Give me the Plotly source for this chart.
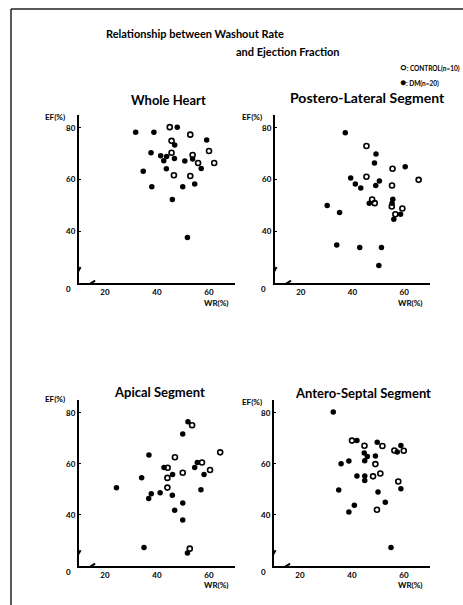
import plotly.graph_objects as go

# ---------------- data (WR %, EF %) ----------------
wh_dm_x = [31.8, 38.8, 47.8, 59.1, 46.8, 37.7, 41.4, 43.7, 42.6, 46.7, 50.7, 53.7, 57.0, 43.6, 34.7, 38.0, 49.9, 54.5, 45.9, 51.7]
wh_dm_y = [78.3, 78.3, 80.3, 75.3, 73.4, 70.4, 69.2, 68.9, 67.3, 68.2, 67.2, 68.0, 64.3, 64.2, 63.2, 57.2, 57.2, 58.3, 52.3, 37.6]
wh_ct_x = [44.9, 52.8, 45.6, 45.6, 53.7, 60.0, 55.8, 62.0, 46.5, 52.8]
wh_ct_y = [80.3, 77.4, 75.0, 70.4, 69.5, 71.1, 66.4, 66.4, 61.7, 61.4]

pl_dm_x = [37.2, 49.1, 48.5, 60.4, 39.3, 41.1, 43.2, 50.4, 49.0, 30.2, 35.0, 33.9, 42.8, 51.2, 50.2, 46.5, 55.6, 55.3, 56.0, 58.6]
pl_dm_y = [78.1, 69.9, 66.4, 65.0, 60.6, 58.3, 56.8, 59.5, 57.7, 50.0, 47.3, 34.7, 33.7, 33.7, 26.8, 50.9, 52.4, 50.9, 44.7, 46.6]
pl_ct_x = [45.4, 55.5, 45.4, 55.3, 65.6, 47.6, 48.6, 55.2, 56.6, 59.3]
pl_ct_y = [73.0, 64.2, 61.1, 57.7, 59.9, 52.3, 50.9, 49.6, 46.6, 48.8]

ap_dm_x = [51.9, 49.9, 36.9, 42.7, 54.5, 55.5, 34.1, 46.0, 58.1, 24.4, 37.8, 36.8, 41.2, 45.9, 56.9, 49.9, 46.8, 49.9, 35.0, 51.7]
ap_dm_y = [76.5, 71.7, 63.5, 58.6, 58.6, 60.5, 54.6, 55.8, 55.8, 50.6, 48.3, 46.4, 48.7, 47.7, 49.9, 44.7, 41.8, 38.0, 27.2, 25.1]
ap_ct_x = [53.5, 64.3, 46.9, 44.1, 57.3, 49.9, 60.4, 44.0, 44.0, 52.6]
ap_ct_y = [75.1, 64.5, 62.6, 58.5, 60.5, 56.5, 57.6, 54.5, 50.7, 26.8]

as_dm_x = [32.8, 41.9, 49.7, 58.8, 57.4, 44.7, 45.9, 49.0, 35.8, 38.8, 44.9, 41.9, 44.9, 44.9, 34.9, 50.0, 58.8, 52.8, 40.9, 38.8, 55.0]
as_dm_y = [80.3, 69.1, 68.5, 67.2, 64.6, 64.2, 62.9, 63.1, 60.0, 61.1, 61.2, 55.2, 55.2, 53.5, 49.8, 49.0, 50.2, 45.0, 43.8, 41.1, 27.2]
as_ct_x = [40.0, 44.8, 51.7, 56.3, 59.9, 49.0, 48.1, 50.9, 57.8, 49.6]
as_ct_y = [69.1, 67.1, 67.0, 65.2, 65.1, 59.9, 55.1, 56.2, 53.1, 42.0]

panel_titles = ["Whole Heart", "Postero-Lateral Segment", "Apical Segment", "Antero-Septal Segment"]
x_ticks = [20, 40, 60]
y_ticks = [40, 60, 80]

W, H = 463, 605
FONT = "Lato, Liberation Sans, sans-serif"

def px(x):
    return x / W

def py(y):
    return 1 - y / H

panels = [
    (wh_ct_x, wh_ct_y, wh_dm_x, wh_dm_y),
    (pl_ct_x, pl_ct_y, pl_dm_x, pl_dm_y),
    (ap_ct_x, ap_ct_y, ap_dm_x, ap_dm_y),
    (as_ct_x, as_ct_y, as_dm_x, as_dm_y),
]
# pixel boxes: (left, right, top, bottom)
boxes = [(79, 235, 115, 283), (275, 430, 115, 283), (79, 235, 400, 566), (274, 430, 400, 566)]
title_pos = [(168, 100), (367, 97), (159, 392), (363, 393)]
title_size = [13, 14, 13, 13]
ef_pos = [(55, 117), (252, 117), (55, 399), (252, 402)]
wr_pos = [(216, 303), (410, 303), (216, 585), (410, 585)]
zero_pos = [(68, 289), (263, 289), (68, 572), (263, 572)]

fig = go.Figure()
layout = dict(
    width=W, height=H, margin=dict(l=0, r=0, t=0, b=0),
    paper_bgcolor="white", plot_bgcolor="white", showlegend=False,
    font=dict(family=FONT, color="black", size=9, weight="bold"),
)
ann = []
shapes = []
for i, (cx, cy, dx, dy) in enumerate(panels):
    n = i + 1
    xa = "x" if n == 1 else f"x{n}"
    ya = "y" if n == 1 else f"y{n}"
    fig.add_trace(go.Scatter(x=dx, y=dy, mode="markers", xaxis=xa, yaxis=ya, name="DM",
                             marker=dict(symbol="circle", size=5.5, color="black")))
    fig.add_trace(go.Scatter(x=cx, y=cy, mode="markers", xaxis=xa, yaxis=ya, name="CONTROL",
                             marker=dict(symbol="circle-open", size=5, color="black", line=dict(width=1.6))))
    l, r, t, b = boxes[i]
    ax_common = dict(showgrid=False, zeroline=False, showline=True, linecolor="black", linewidth=2,
                     ticklen=2, tickcolor="black", tickfont=dict(size=8, family=FONT, weight="bold"))
    layout["xaxis" if n == 1 else f"xaxis{n}"] = dict(
        domain=[px(l), px(r)], range=[10, 70], anchor=ya, tickvals=x_ticks, ticks="", **ax_common)
    layout["yaxis" if n == 1 else f"yaxis{n}"] = dict(
        domain=[py(b), py(t)], range=[20, 85], anchor=xa, tickvals=y_ticks, ticks="inside", **ax_common)
    tx, ty = title_pos[i]
    ann.append(dict(text=panel_titles[i], x=px(tx), y=py(ty), xref="paper", yref="paper", showarrow=False,
                    xanchor="center", yanchor="middle", font=dict(size=title_size[i], family=FONT, weight="bold")))
    ex, ey = ef_pos[i]
    ann.append(dict(text="EF(%)", x=px(ex), y=py(ey), xref="paper", yref="paper", showarrow=False,
                    xanchor="center", yanchor="middle", font=dict(size=8, family=FONT, weight="bold")))
    wx, wy = wr_pos[i]
    ann.append(dict(text="WR(%)", x=px(wx), y=py(wy), xref="paper", yref="paper", showarrow=False,
                    xanchor="center", yanchor="middle", font=dict(size=8, family=FONT, weight="bold")))
    zx, zy = zero_pos[i]
    ann.append(dict(text="0", x=px(zx), y=py(zy), xref="paper", yref="paper", showarrow=False,
                    xanchor="center", yanchor="middle", font=dict(size=8, family=FONT, weight="bold")))
    # axis break marks
    shapes.append(dict(type="line", xref=xa, yref=ya, x0=9.2, y0=23.6, x1=10.6, y1=26.2,
                       line=dict(color="black", width=2)))
    shapes.append(dict(type="line", xref=xa, yref=ya, x0=14.2, y0=19.7, x1=16.2, y1=20.9,
                       line=dict(color="black", width=2)))

# titles
ann.append(dict(text="Relationship between Washout Rate", x=px(195), y=py(33), xref="paper", yref="paper",
                showarrow=False, xanchor="center", yanchor="middle", font=dict(size=11, family=FONT, weight="bold")))
ann.append(dict(text="and Ejection Fraction", x=px(288), y=py(52), xref="paper", yref="paper",
                showarrow=False, xanchor="center", yanchor="middle", font=dict(size=11, family=FONT, weight="bold")))
ann.append(dict(text="<span style='font-size:10px'>○</span>: CONTROL(n=10)", x=px(398), y=py(67), xref="paper", yref="paper",
                showarrow=False, xanchor="left", yanchor="middle", font=dict(size=6.5, family=FONT, weight="bold")))
ann.append(dict(text="<span style='font-size:10px'>●</span>: DM(n=20)", x=px(398), y=py(82), xref="paper", yref="paper",
                showarrow=False, xanchor="left", yanchor="middle", font=dict(size=6.5, family=FONT, weight="bold")))

# page frame
shapes.append(dict(type="line", xref="paper", yref="paper", x0=px(11), y0=py(9), x1=px(11), y1=py(605),
                   line=dict(color="#222", width=1.5)))
shapes.append(dict(type="line", xref="paper", yref="paper", x0=px(11), y0=py(9), x1=px(463), y1=py(9),
                   line=dict(color="#222", width=1.5)))

layout["annotations"] = ann
layout["shapes"] = shapes
fig.update_layout(**layout)
fig.write_html("out.html", config={"displayModeBar": False},
               post_script="document.body.style.margin='0';")
